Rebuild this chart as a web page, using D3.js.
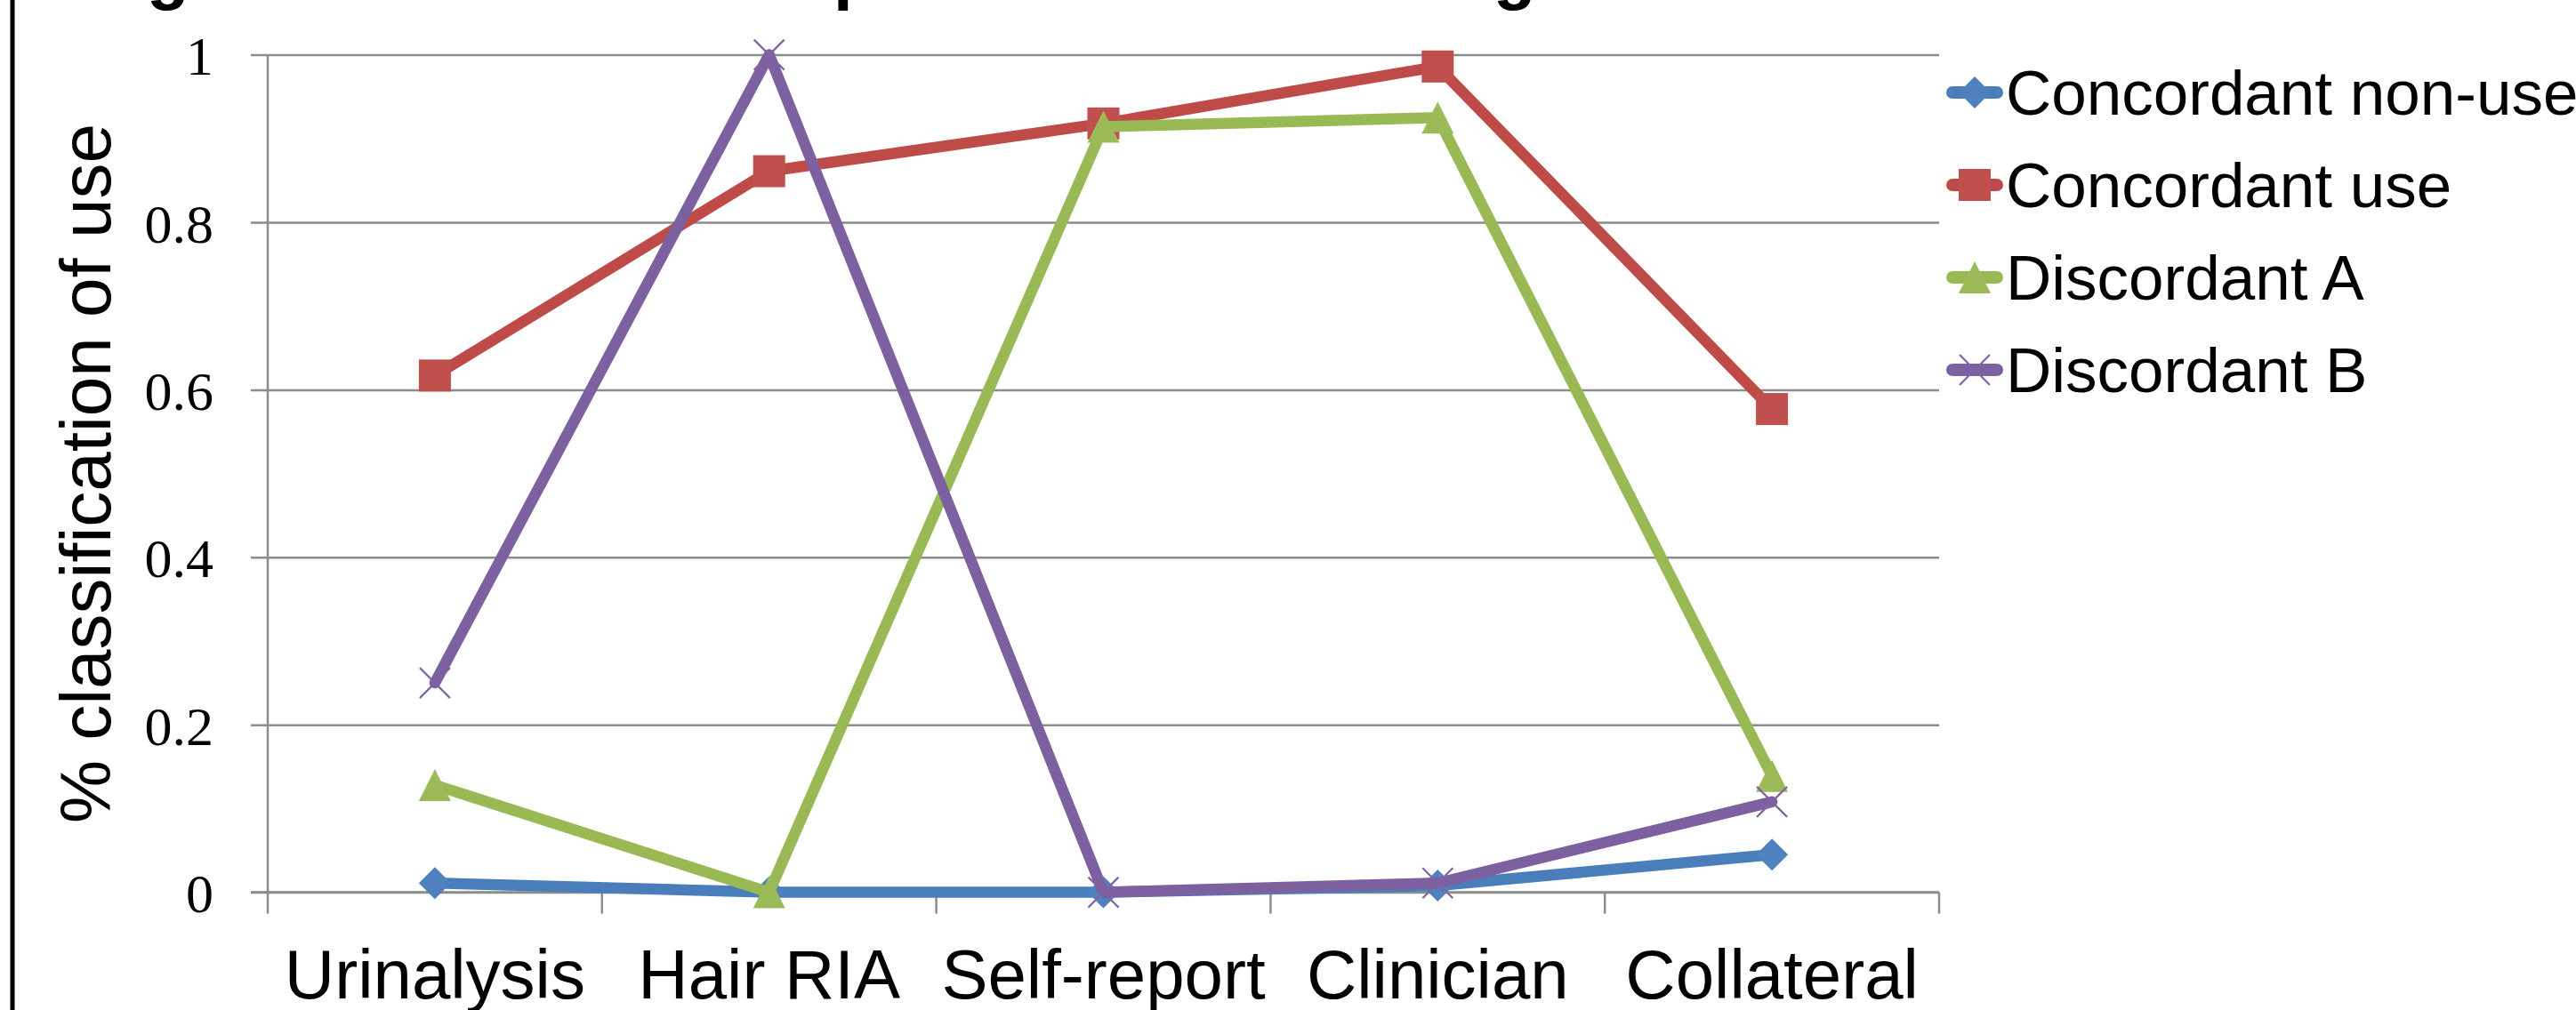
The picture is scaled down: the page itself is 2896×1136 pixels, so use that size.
<!DOCTYPE html>
<html>
<head>
<meta charset="utf-8">
<script src="https://cdn.jsdelivr.net/npm/d3@7/dist/d3.min.js"></script>
<style>
  html, body { margin: 0; padding: 0; background: #ffffff; }
  svg { display: block; }
</style>
</head>
<body>
<svg id="chart" width="2896" height="1136"></svg>
<script>
// ---------------- DATA ----------------
const categories = ["Urinalysis", "Hair RIA", "Self-report", "Clinician", "Collateral"];
const seriesNames = ["Concordant non-use", "Concordant use", "Discordant A", "Discordant B"];
const concordantNonUse = [0.011, 0.0, 0.0, 0.008, 0.045];
const concordantUse    = [0.617, 0.861, 0.918, 0.986, 0.577];
const discordantA      = [0.128, 0.0, 0.914, 0.925, 0.139];
const discordantB      = [0.250, 1.0, 0.0, 0.011, 0.108];
const yTickValues = [0, 0.2, 0.4, 0.6, 0.8, 1];
const yTickLabels = ["0", "0.2", "0.4", "0.6", "0.8", "1"];
const yAxisTitle = "% classification of use";
// visible descender fragments of the title cut off at the top edge
const titleFragments = ["g", "p", "g"];

// ---------------- STYLE / LAYOUT ----------------
const W = 2896, H = 1136;
const plot = { left: 301, right: 2180, top: 61.6, bottom: 1003.6 };
const lineColors   = ["#4A7EBB", "#BE4B48", "#98B954", "#7D60A0"];
const markerColors = ["#4F81BD", "#C0504D", "#9BBB59", "#8064A2"];
const markerTypes  = ["diamond", "square", "triangle", "x"];
const gridColor = "#8C8C8C";

const svg = d3.select("#chart");
svg.append("rect").attr("width", W).attr("height", H).attr("fill", "#fff");

// left border line of the figure frame
svg.append("line").attr("x1", 14).attr("x2", 14).attr("y1", 0).attr("y2", H)
  .attr("stroke", "#000").attr("stroke-width", 5);

// title fragments (only descenders visible)
const titleX = [165, 937, 1679];
svg.append("g").selectAll("text").data(titleFragments).join("text")
  .attr("x", (d, i) => titleX[i]).attr("y", -4)
  .attr("font-family", "Liberation Sans, Arial, sans-serif")
  .attr("font-weight", "bold").attr("font-size", 78)
  .attr("fill", "#000").text(d => d);

// scales
const band = d3.scaleBand().domain(categories).range([plot.left, plot.right]).paddingInner(0).paddingOuter(0);
const xPos = c => band(c) + band.bandwidth() / 2;
const y = d3.scaleLinear().domain([0, 1]).range([plot.bottom, plot.top]);

// gridlines + y axis via d3.axisLeft
const yAxis = d3.axisLeft(y).tickValues(yTickValues)
  .tickFormat((d, i) => yTickLabels[i]).tickSize(0).tickPadding(0);
const gy = svg.append("g").attr("transform", `translate(${plot.left},0)`).call(yAxis);
gy.select(".domain").remove();
gy.selectAll(".tick line").remove();
gy.selectAll(".tick").append("line")
  .attr("x1", -19).attr("x2", plot.right - plot.left)
  .attr("stroke", gridColor).attr("stroke-width", 2.5);
gy.selectAll(".tick text")
  .attr("x", -61).attr("dy", null).attr("y", 22)
  .attr("font-family", "Liberation Serif, Times New Roman, serif")
  .attr("font-size", 62).attr("fill", "#000").attr("text-anchor", "end");

// y axis line
svg.append("line").attr("x1", plot.left).attr("x2", plot.left)
  .attr("y1", plot.top).attr("y2", plot.bottom)
  .attr("stroke", gridColor).attr("stroke-width", 2.5);

// x axis via d3.axisBottom (labels), boundary ticks from band scale
const xAxis = d3.axisBottom(band).tickSize(0).tickPadding(0);
const gx = svg.append("g").attr("transform", `translate(0,${plot.bottom})`).call(xAxis);
gx.select(".domain").remove();
gx.selectAll(".tick text")
  .attr("y", 119).attr("dy", null)
  .attr("font-family", "Liberation Sans, Arial, sans-serif")
  .attr("font-size", 78).attr("fill", "#000");
const boundaries = categories.map(c => band(c)).concat([band(categories[categories.length - 1]) + band.bandwidth()]);
svg.append("g").selectAll("line").data(boundaries).join("line")
  .attr("x1", d => d).attr("x2", d => d)
  .attr("y1", plot.bottom).attr("y2", plot.bottom + 24)
  .attr("stroke", gridColor).attr("stroke-width", 2.5);
svg.append("line").attr("x1", plot.left - 19).attr("x2", plot.right)
  .attr("y1", plot.bottom).attr("y2", plot.bottom)
  .attr("stroke", gridColor).attr("stroke-width", 2.5);

// y axis title
svg.append("text")
  .attr("transform", `translate(124,${(plot.top + plot.bottom) / 2}) rotate(-90)`)
  .attr("text-anchor", "middle")
  .attr("font-family", "Liberation Sans, Arial, sans-serif")
  .attr("font-size", 80).attr("fill", "#000")
  .text(yAxisTitle);

// marker drawing
function drawMarker(g, type, cx, cy, i) {
  const s = 18;
  if (type === "diamond") {
    g.append("path").attr("d", `M${cx},${cy - s}L${cx + s},${cy}L${cx},${cy + s}L${cx - s},${cy}Z`)
      .attr("fill", markerColors[i]);
  } else if (type === "square") {
    g.append("rect").attr("x", cx - s).attr("y", cy - s).attr("width", 2 * s).attr("height", 2 * s)
      .attr("fill", markerColors[i]);
  } else if (type === "triangle") {
    g.append("path").attr("d", `M${cx},${cy - s}L${cx + s},${cy + s}L${cx - s},${cy + s}Z`)
      .attr("fill", markerColors[i]);
  } else {
    const a = 17;
    g.append("path").attr("d", `M${cx - a},${cy - a}L${cx + a},${cy + a}M${cx - a},${cy + a}L${cx + a},${cy - a}`)
      .attr("stroke", markerColors[i]).attr("stroke-width", 2.2).attr("fill", "none");
  }
}

// series
const allSeries = [concordantNonUse, concordantUse, discordantA, discordantB];
const line = d3.line().x((d, i) => xPos(categories[i])).y(d => y(d));
allSeries.forEach((vals, i) => {
  const g = svg.append("g");
  g.append("path").datum(vals).attr("d", line)
    .attr("fill", "none").attr("stroke", lineColors[i]).attr("stroke-width", 12.5)
    .attr("stroke-linejoin", "round").attr("stroke-linecap", "round");
  vals.forEach((v, j) => drawMarker(g, markerTypes[i], xPos(categories[j]), y(v), i));
});

// legend
const legendRows = [104, 208, 312, 416];
const lg = svg.append("g");
seriesNames.forEach((name, i) => {
  const cy = legendRows[i];
  lg.append("line").attr("x1", 2195).attr("x2", 2245).attr("y1", cy).attr("y2", cy)
    .attr("stroke", lineColors[i]).attr("stroke-width", 14).attr("stroke-linecap", "round");
  drawMarker(lg, markerTypes[i], 2220, cy, i);
  lg.append("text").attr("x", 2255).attr("y", cy + 25)
    .attr("font-family", "Liberation Sans, Arial, sans-serif")
    .attr("font-size", 71).attr("fill", "#000").text(name);
});
</script>
</body>
</html>
